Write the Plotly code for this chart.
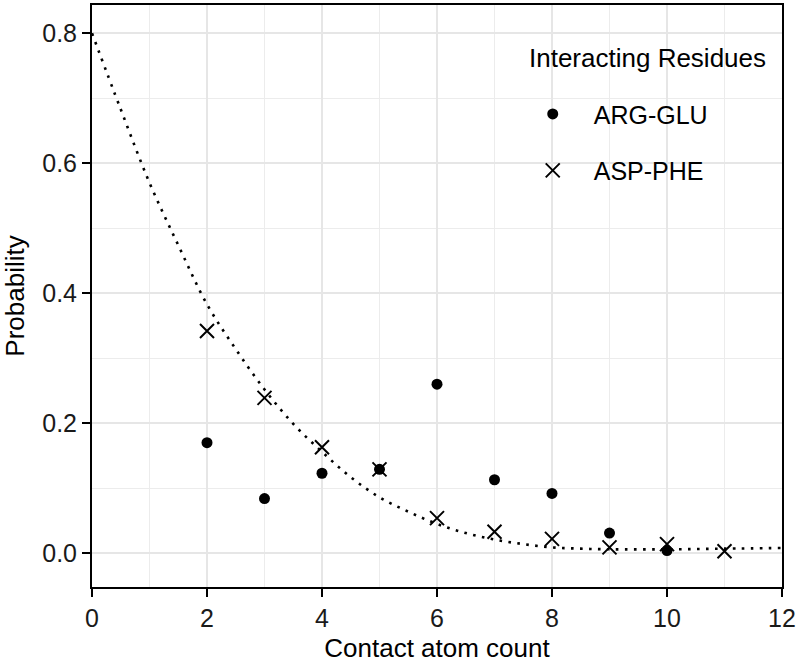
import plotly.graph_objects as go

# Kontaktatome vs. Wahrscheinlichkeit, zwei Residuenpaare + geglättete Kurve
arg_glu_x = [2, 3, 4, 5, 6, 7, 8, 9, 10]
arg_glu_y = [0.170, 0.084, 0.123, 0.129, 0.260, 0.113, 0.092, 0.031, 0.004]

asp_phe_x = [2, 3, 4, 5, 6, 7, 8, 9, 10, 11]
asp_phe_y = [0.342, 0.239, 0.163, 0.129, 0.054, 0.033, 0.022, 0.009, 0.014, 0.003]

fit_x = [0, 0.5, 1, 1.5, 2, 2.5, 3, 3.5, 4, 4.5, 5, 5.5, 6, 6.5, 7, 7.5, 8, 8.5, 9, 10, 11, 12]
fit_y = [0.800, 0.683, 0.570, 0.474, 0.383, 0.314, 0.252, 0.199, 0.156, 0.117, 0.086, 0.064,
         0.045, 0.031, 0.021, 0.014, 0.009, 0.007, 0.006, 0.006, 0.007, 0.008]

x_ticks = [0, 2, 4, 6, 8, 10, 12]
y_ticks = [0.0, 0.2, 0.4, 0.6, 0.8]
y_ticklabels = ["0.0", "0.2", "0.4", "0.6", "0.8"]

FONT = "Liberation Sans, Arial, sans-serif"

fig = go.Figure()
fig.add_trace(go.Scatter(x=fit_x, y=fit_y, mode="lines", showlegend=False, hoverinfo="skip",
                         line=dict(color="black", width=2.6, dash="2.6px,6.4px", shape="spline")))
fig.add_trace(go.Scatter(x=arg_glu_x, y=arg_glu_y, mode="markers", name="ARG-GLU", legendgroup="a",
                         marker=dict(symbol="circle", size=11, color="black")))
fig.add_trace(go.Scatter(x=asp_phe_x, y=asp_phe_y, mode="markers", name="ASP-PHE", legendgroup="b",
                         marker=dict(symbol="x-thin", size=14, color="black",
                                     line=dict(color="black", width=2))))

# weisse Legenden-Keys (verdecken das Gitter wie bei ggplot)
fig.add_shape(type="rect", xref="paper", yref="paper", x0=0.6275, x1=0.710, y0=0.670, y1=0.866,
              fillcolor="white", line=dict(width=0), layer="between")
# Legendentitel separat, damit der Abstand zu den Einträgen stimmt
fig.add_annotation(text="Interacting Residues", xref="paper", yref="paper", x=0.630, y=0.909,
                   xanchor="left", yanchor="middle", showarrow=False,
                   font=dict(size=26, color="black", family=FONT))

axis_common = dict(showline=True, linecolor="black", linewidth=2, mirror=True, automargin=False,
                   ticks="outside", ticklen=8, tickwidth=2, tickcolor="black",
                   gridcolor="#e6e6e6", gridwidth=2, zeroline=False,
                   tickfont=dict(size=25, color="#1a1a1a", family=FONT),
                   minor=dict(showgrid=True, gridcolor="#ececec", gridwidth=1, ticks=""))
fig.update_xaxes(range=[0, 12], tickvals=x_ticks, title=dict(text="Contact atom count",
                 font=dict(size=26, color="black", family=FONT)),
                 minor_tickvals=[1, 3, 5, 7, 9, 11], **axis_common)
fig.update_yaxes(range=[-0.052, 0.8435], tickvals=y_ticks, ticktext=y_ticklabels,
                 title=dict(text="Probability", font=dict(size=26, color="black", family=FONT)),
                 minor_tickvals=[-0.1, 0.1, 0.3, 0.5, 0.7], **axis_common)

fig.update_layout(
    width=800, height=663, plot_bgcolor="white", paper_bgcolor="white",
    margin=dict(l=92, r=18, t=5, b=76),
    font=dict(family=FONT, color="black"),
    legend=dict(x=0.6083, y=0.852, xanchor="left", yanchor="top", bgcolor="rgba(0,0,0,0)",
                font=dict(size=25), itemwidth=72, tracegroupgap=21),
)

fig.write_html("out.html", config={"displayModeBar": False},
               post_script="document.body.style.margin='0';document.body.style.padding='0';")
